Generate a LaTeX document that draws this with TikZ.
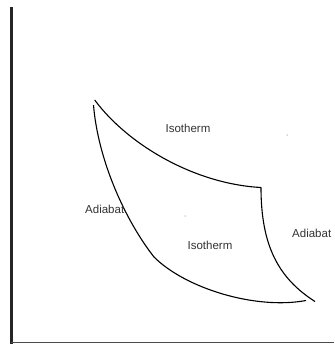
\documentclass[tikz,border=0pt]{standalone}
\usepackage{fontspec}
\setmainfont{Liberation Sans}
\definecolor{txt}{HTML}{333333}
\begin{document}
\begin{tikzpicture}[x=1pt,y=-1pt,
  curve/.style={line width=1.1pt, black},
  lbl/.style={text=txt, font=\fontsize{11.5}{13}\selectfont, inner sep=0pt}]
\useasboundingbox (0,0) rectangle (334,350);
\fill[white] (0,0) rectangle (334,350);
% axes
\draw[line width=2.8pt, black!85] (11.8,7) -- (11.8,343.5);
\draw[line width=0.9pt, black!70] (11,342.8) -- (334,342.8);
% corner points
\coordinate (A) at (94.7,100);
\coordinate (A2) at (93.5,105);
\coordinate (B) at (261,187.5);
\coordinate (C) at (154,257);
\coordinate (D) at (306,300.5);
\coordinate (E) at (315,301.5);
% top isotherm
\draw[curve] (A) .. controls (128,145) and (195,184) .. (B);
% left adiabat
\draw[curve] (A2) .. controls (98,160) and (125,220) .. (C);
% bottom isotherm
\draw[curve] (C) .. controls (185,288) and (255,310) .. (D);
% right adiabat
\draw[curve] (B) .. controls (261,245) and (278,278) .. (E);
% labels
\node[lbl] (iso1) at (188,128) {Isotherm};
\node[lbl] (iso2) at (210,245) {Isotherm};
\node[lbl, anchor=west] (ad1) at (85,209) {Adiabat};
\node[lbl, anchor=west] (ad2) at (292,233) {Adiabat};
% specks
\fill[black!70] (287,135) circle (0.5pt);
\fill[black!70] (185,216) circle (0.5pt);
\end{tikzpicture}
\end{document}
